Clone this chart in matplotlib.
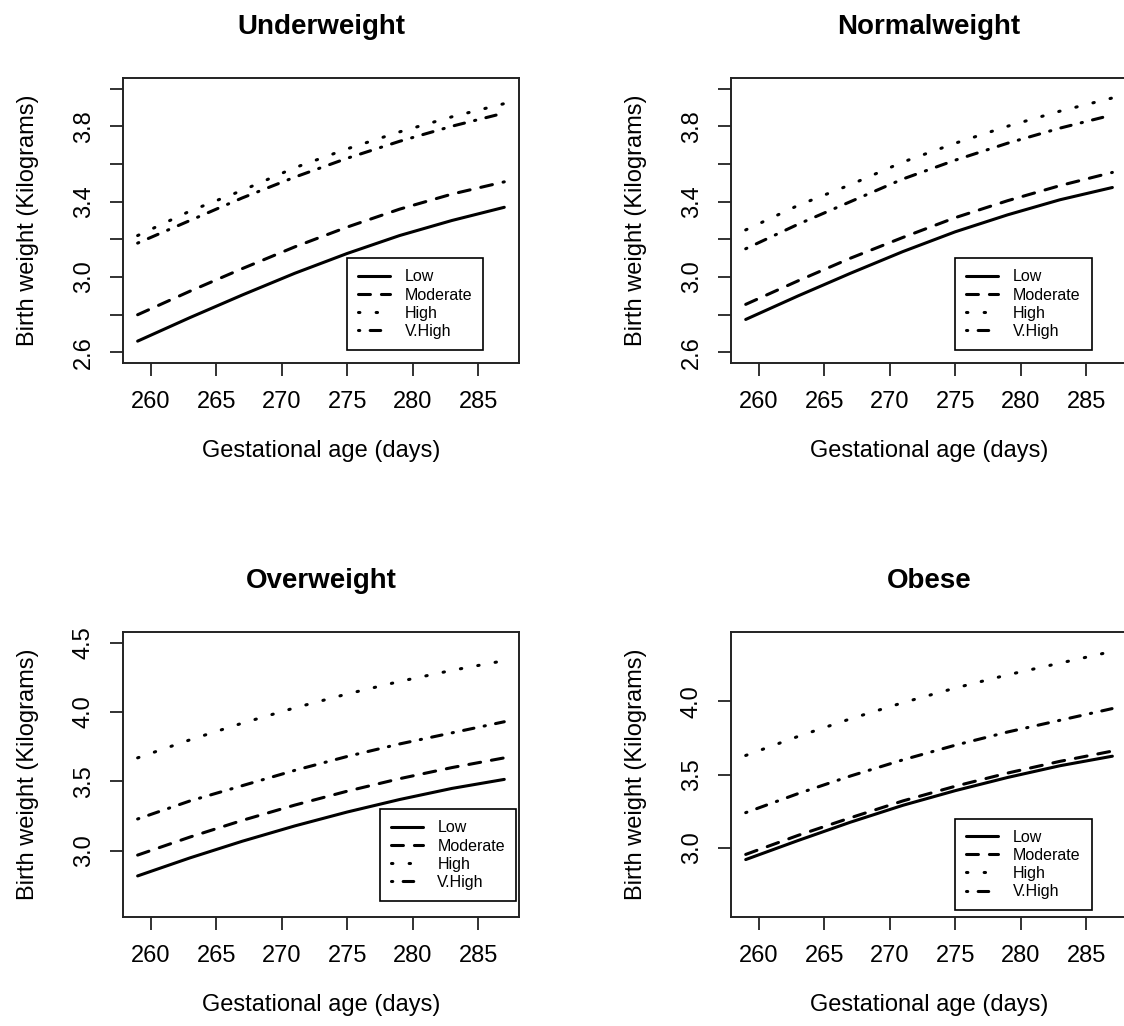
import numpy as np
import matplotlib
matplotlib.use("Agg")
import matplotlib.pyplot as plt

# gestational age (days) where the fitted curves were read
days = [259, 263, 267, 271, 275, 279, 283, 287]

# birth weight (kg) per BMI group, one list per activity level
under_low = [2.66, 2.785, 2.905, 3.02, 3.125, 3.22, 3.30, 3.37]
under_mod = [2.80, 2.925, 3.045, 3.16, 3.265, 3.36, 3.44, 3.505]
under_high = [3.22, 3.35, 3.46, 3.58, 3.68, 3.77, 3.85, 3.92]
under_vhigh = [3.18, 3.30, 3.42, 3.53, 3.63, 3.72, 3.80, 3.87]

normal_low = [2.775, 2.90, 3.02, 3.135, 3.24, 3.33, 3.41, 3.475]
normal_mod = [2.855, 2.98, 3.10, 3.21, 3.315, 3.405, 3.485, 3.555]
normal_high = [3.25, 3.38, 3.49, 3.61, 3.71, 3.80, 3.88, 3.95]
normal_vhigh = [3.15, 3.28, 3.40, 3.52, 3.62, 3.71, 3.79, 3.86]

over_low = [2.82, 2.95, 3.07, 3.18, 3.28, 3.37, 3.45, 3.515]
over_mod = [2.97, 3.10, 3.22, 3.33, 3.43, 3.52, 3.60, 3.67]
over_high = [3.67, 3.80, 3.92, 4.03, 4.13, 4.22, 4.30, 4.37]
over_vhigh = [3.23, 3.36, 3.47, 3.58, 3.68, 3.77, 3.85, 3.93]

obese_low = [2.92, 3.05, 3.175, 3.29, 3.39, 3.48, 3.56, 3.625]
obese_mod = [2.955, 3.085, 3.205, 3.32, 3.42, 3.51, 3.59, 3.66]
obese_high = [3.63, 3.76, 3.88, 3.99, 4.09, 4.18, 4.26, 4.34]
obese_vhigh = [3.24, 3.37, 3.49, 3.60, 3.70, 3.79, 3.87, 3.95]

levels = ["Low", "Moderate", "High", "V.High"]
titles = ["Underweight", "Normalweight", "Overweight", "Obese"]

plt.rcParams["font.family"] = ["Liberation Sans", "DejaVu Sans"]
plt.rcParams["lines.scale_dashes"] = False

# R-like line types (dash lengths in points)
line_styles = [
    "-",
    (0, (8.6, 7.9)),
    (0, (1.0, 11.7)),
    (0, (0.9, 7.5, 7.6, 7.5)),
]

fig = plt.figure(figsize=(11.24, 10.26), dpi=100)

# axes boxes in figure fraction (right column runs past the image edge)
boxes = [
    [0.1094, 0.6462, 0.3523, 0.2778],
    [0.6504, 0.6462, 0.3523, 0.2778],
    [0.1094, 0.1062, 0.3523, 0.2778],
    [0.6504, 0.1062, 0.3523, 0.2778],
]
panel_data = [
    [under_low, under_mod, under_high, under_vhigh],
    [normal_low, normal_mod, normal_high, normal_vhigh],
    [over_low, over_mod, over_high, over_vhigh],
    [obese_low, obese_mod, obese_high, obese_vhigh],
]
y_ranges = [(2.6, 4.0), (2.6, 4.0), (2.6, 4.5), (2.6, 4.4)]
y_ticks = [np.arange(2.6, 4.01, 0.2), np.arange(2.6, 4.01, 0.2),
           [3.0, 3.5, 4.0, 4.5], [3.0, 3.5, 4.0]]
y_shown = [[2.6, 3.0, 3.4, 3.8], [2.6, 3.0, 3.4, 3.8], None, None]
legend_at = [(275, 3.1), (275, 3.1), (277.5, 3.3), (275, 3.2)]

edge = "#222222"

for i in range(4):
    ax = fig.add_axes(boxes[i])
    for series, name, ls in zip(panel_data[i], levels, line_styles):
        ax.plot(days, series, color="black", lw=2.2, linestyle=ls,
                dash_capstyle="round", solid_capstyle="round", label=name)

    # R style 4% padding
    x0, x1 = min(days), max(days)
    pad = (x1 - x0) * 0.04
    ax.set_xlim(x0 - pad, x1 + pad)
    y0, y1 = y_ranges[i]
    pad = (y1 - y0) * 0.04
    ax.set_ylim(y0 - pad, y1 + pad)

    ax.set_xticks([260, 265, 270, 275, 280, 285])
    ax.set_yticks(y_ticks[i])
    if y_shown[i] is not None:
        labels = []
        for t in y_ticks[i]:
            if any(abs(t - s) < 1e-6 for s in y_shown[i]):
                labels.append(f"{t:.1f}")
            else:
                labels.append("")
        ax.set_yticklabels(labels)
    else:
        ax.set_yticklabels([f"{t:.1f}" for t in y_ticks[i]])

    ax.tick_params(direction="out", length=9.4, width=1.3, color=edge,
                   labelsize=17, pad=11)
    ax.tick_params(axis="y", labelrotation=90)
    for lab in ax.get_yticklabels():
        lab.set_verticalalignment("center")
    for sp in ax.spines.values():
        sp.set_linewidth(1.4)
        sp.set_color(edge)

    ax.set_title(titles[i], fontsize=20, fontweight="bold", pad=32)
    ax.set_xlabel("Gestational age (days)", fontsize=17)
    ax.xaxis.set_label_coords(0.5, -0.329)
    ax.xaxis.label.set_verticalalignment("baseline")
    ax.set_ylabel("Birth weight (Kilograms)", fontsize=17)
    ax.yaxis.set_label_coords(-0.24, 0.5)
    ax.yaxis.label.set_verticalalignment("center")

    leg = ax.legend(loc="upper left", bbox_to_anchor=legend_at[i],
                    bbox_transform=ax.transData, borderaxespad=0,
                    fontsize=11.5, handlelength=2.0, handletextpad=0.9,
                    borderpad=0.7, labelspacing=0.2, fancybox=False,
                    framealpha=1, edgecolor="black")
    leg.get_frame().set_linewidth(1.2)

plt.savefig("out.png", dpi=100)
